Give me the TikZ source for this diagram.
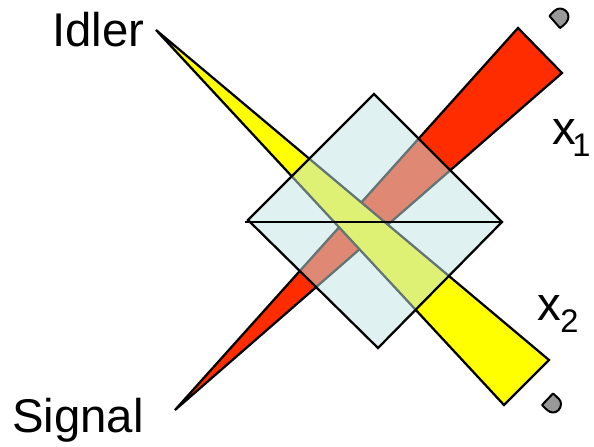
\documentclass[tikz,border=0pt]{standalone}
\usepackage{fontspec}
\setmainfont{Liberation Sans}
\definecolor{beamred}{RGB}{255,44,0}
\definecolor{beamyellow}{RGB}{255,255,0}
\definecolor{crystal}{RGB}{193,228,228}
\definecolor{detgray}{RGB}{153,153,153}
\tikzset{
  beam/.style={draw=black,line width=1.7pt,line join=miter},
  crystalbox/.style={draw=black,line width=1.7pt,fill=crystal,fill opacity=.51},
  detector/.style={draw=black,line width=1.5pt,fill=detgray,line join=round},
  lab/.style={inner sep=0pt,anchor=base west,font=\fontsize{35.5}{36}\selectfont},
  sublab/.style={inner sep=0pt,anchor=base west,font=\fontsize{24.5}{25}\selectfont}
}
\begin{document}
\begin{tikzpicture}[x=0.75pt,y=-0.75pt]
\useasboundingbox (0,0) rectangle (594,447);
\draw[beam,fill=beamred] (175,410) -- (518,28) -- (562,73) -- cycle;
\draw[beam,fill=beamyellow] (156,30) -- (549,360) -- (504,405) -- cycle;
\draw[crystalbox] (374,94) -- (502,222) -- (378,348) -- (248,220) -- cycle;
\coordinate (bl) at (245,222);
\coordinate (br) at (502,222);
\draw[black,line width=1.7pt] (bl) -- (br);
\draw[detector] (549.5,16) -- (560,28) .. controls (565,24.5) and (568.5,21) .. (568.5,16.5) .. controls (568.5,12) and (564,8.5) .. (560,8.5) .. controls (556,8.5) and (553,12) .. cycle;
\draw[detector] (542,405) -- (553,393.5) .. controls (558,398) and (561,400) .. (561,404) .. controls (561,409) and (557,412.5) .. (553,412.5) .. controls (549,412.5) and (546,409) .. cycle;
\node[lab] (idler) at (52,46.5) {Idler};
\node[lab] (signal) at (12,432.5) {Signal};
\node[lab] (x1) at (552,144.5) {x};
\node[sublab] (one) at (572,156.5) {1};
\node[lab] (x2) at (537,320.5) {x};
\node[sublab] (two) at (560,332.5) {2};
\end{tikzpicture}
\end{document}
